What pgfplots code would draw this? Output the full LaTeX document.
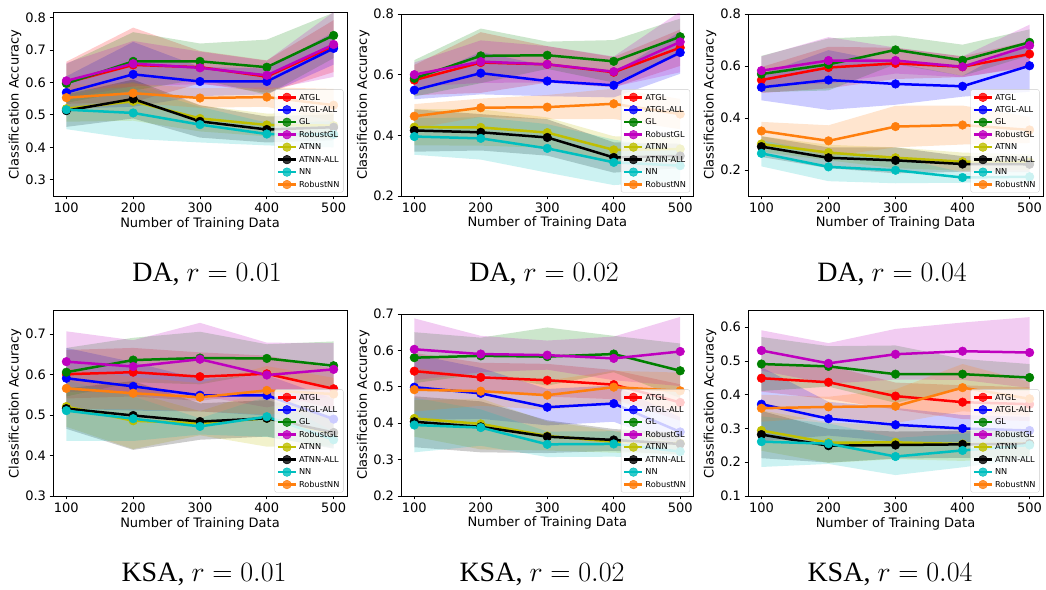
\RequirePackage{fix-cm}
\documentclass[border=0pt]{standalone}
\usepackage[no-math]{fontspec}
\setmainfont{Liberation Serif}
\newfontfamily\dejavu{DejaVu Sans}
\usepackage{pgfplots}
\pgfplotsset{compat=1.18}
\usepackage{pgfplotstable}
\usepgfplotslibrary{fillbetween}

\definecolor{cA}{rgb}{1,0,0}
\definecolor{cB}{rgb}{0,0,1}
\definecolor{cG}{rgb}{0,0.5,0}
\definecolor{cR}{rgb}{0.75,0,0.75}
\definecolor{cN}{rgb}{0.75,0.75,0}
\definecolor{cK}{rgb}{0,0,0}
\definecolor{cC}{rgb}{0,0.75,0.75}
\definecolor{cO}{rgb}{1,0.498,0.055}

% columns: a=ATGL b=ATGL-ALL g=GL r=RobustGL n=ATNN k=ATNN-ALL c=NN o=RobustNN ; s* = std
\pgfplotstableread{
x a sa b sb g sg r sr n sn k sk c sc o so
100 0.599 0.065 0.569 0.05 0.597 0.06 0.605 0.055 0.519 0.04 0.513 0.05 0.516 0.06 0.553 0.04
200 0.654 0.115 0.625 0.10 0.665 0.09 0.658 0.07 0.542 0.06 0.549 0.06 0.506 0.08 0.567 0.03
300 0.647 0.05 0.603 0.045 0.665 0.055 0.645 0.05 0.489 0.04 0.480 0.05 0.470 0.055 0.552 0.03
400 0.618 0.05 0.603 0.04 0.647 0.085 0.622 0.045 0.469 0.035 0.455 0.04 0.441 0.035 0.555 0.03
500 0.712 0.08 0.705 0.05 0.745 0.07 0.717 0.10 0.467 0.04 0.462 0.04 0.440 0.04 0.530 0.05
}\tabA
\pgfplotstableread{
x a sa b sb g sg r sr n sn k sk c sc o so
100 0.582 0.05 0.549 0.03 0.588 0.06 0.600 0.04 0.427 0.06 0.416 0.07 0.396 0.06 0.463 0.04
200 0.640 0.10 0.605 0.07 0.662 0.09 0.643 0.07 0.426 0.06 0.410 0.06 0.390 0.07 0.491 0.03
300 0.634 0.06 0.579 0.05 0.664 0.045 0.634 0.06 0.409 0.05 0.393 0.06 0.357 0.08 0.493 0.04
400 0.608 0.05 0.565 0.04 0.644 0.07 0.610 0.05 0.352 0.045 0.327 0.05 0.311 0.075 0.504 0.05
500 0.689 0.06 0.673 0.07 0.725 0.06 0.708 0.10 0.355 0.04 0.332 0.04 0.300 0.05 0.470 0.05
}\tabB
\pgfplotstableread{
x a sa b sb g sg r sr n sn k sk c sc o so
100 0.546 0.05 0.518 0.05 0.569 0.07 0.582 0.055 0.300 0.03 0.290 0.04 0.264 0.05 0.350 0.035
200 0.594 0.08 0.546 0.115 0.606 0.10 0.621 0.09 0.267 0.03 0.247 0.04 0.212 0.055 0.312 0.06
300 0.610 0.06 0.531 0.08 0.662 0.055 0.621 0.05 0.247 0.04 0.237 0.05 0.199 0.05 0.367 0.08
400 0.597 0.04 0.522 0.04 0.622 0.06 0.597 0.04 0.232 0.035 0.223 0.03 0.171 0.02 0.373 0.075
500 0.646 0.05 0.601 0.10 0.691 0.05 0.679 0.08 0.230 0.03 0.222 0.03 0.174 0.02 0.354 0.05
}\tabC
\pgfplotstableread{
x a sa b sb g sg r sr n sn k sk c sc o so
100 0.601 0.06 0.591 0.075 0.606 0.06 0.632 0.075 0.521 0.05 0.516 0.05 0.511 0.075 0.566 0.05
200 0.606 0.06 0.571 0.06 0.636 0.055 0.620 0.065 0.486 0.07 0.499 0.085 0.491 0.055 0.554 0.04
300 0.595 0.06 0.549 0.04 0.641 0.065 0.638 0.09 0.480 0.03 0.484 0.045 0.472 0.02 0.544 0.035
400 0.602 0.045 0.549 0.05 0.640 0.035 0.599 0.08 0.492 0.07 0.492 0.045 0.496 0.05 0.561 0.06
500 0.565 0.05 0.490 0.05 0.622 0.06 0.613 0.065 0.455 0.03 0.457 0.04 0.439 0.02 0.552 0.04
}\tabD
\pgfplotstableread{
x a sa b sb g sg r sr n sn k sk c sc o so
100 0.543 0.05 0.499 0.09 0.580 0.07 0.603 0.085 0.413 0.05 0.404 0.07 0.395 0.075 0.492 0.06
200 0.526 0.04 0.482 0.07 0.585 0.05 0.590 0.05 0.398 0.07 0.390 0.07 0.388 0.05 0.488 0.04
300 0.518 0.045 0.444 0.05 0.583 0.08 0.587 0.04 0.365 0.04 0.363 0.045 0.342 0.035 0.477 0.04
400 0.506 0.04 0.454 0.05 0.590 0.05 0.578 0.06 0.349 0.03 0.354 0.03 0.343 0.035 0.499 0.045
500 0.457 0.05 0.376 0.04 0.544 0.075 0.597 0.095 0.345 0.03 0.343 0.03 0.322 0.02 0.489 0.05
}\tabE
\pgfplotstableread{
x a sa b sb g sg r sr n sn k sk c sc o so
100 0.449 0.04 0.372 0.11 0.491 0.08 0.531 0.06 0.294 0.06 0.282 0.07 0.261 0.075 0.360 0.04
200 0.437 0.05 0.329 0.05 0.484 0.06 0.493 0.06 0.258 0.06 0.249 0.05 0.255 0.06 0.364 0.03
300 0.396 0.04 0.311 0.05 0.461 0.085 0.520 0.075 0.259 0.05 0.251 0.04 0.217 0.055 0.366 0.05
400 0.378 0.05 0.300 0.04 0.461 0.045 0.529 0.085 0.254 0.05 0.253 0.04 0.235 0.05 0.421 0.07
500 0.372 0.05 0.294 0.04 0.451 0.04 0.525 0.105 0.255 0.04 0.255 0.04 0.251 0.04 0.388 0.05
}\tabF

\newcommand{\series}[3]{%
  \addplot[draw=none, forget plot, name path=u#2] table[x=x, y expr=\thisrow{#2}+\thisrow{s#2}] {#1};
  \addplot[draw=none, forget plot, name path=l#2] table[x=x, y expr=\thisrow{#2}-\thisrow{s#2}] {#1};
  \addplot[fill=#3, fill opacity=0.2, draw=none, forget plot] fill between[of=u#2 and l#2];
  \addplot[color=#3, line width=2.5bp, mark=*, mark size=4.3bp, mark options={solid, fill=#3, line width=0.5bp}] table[x=x, y=#2] {#1};
}
\newcommand{\allseries}[1]{%
  \series{#1}{a}{cA}\series{#1}{b}{cB}\series{#1}{g}{cG}\series{#1}{r}{cR}%
  \series{#1}{n}{cN}\series{#1}{k}{cK}\series{#1}{c}{cC}\series{#1}{o}{cO}%
}

\pgfplotsset{
  myax/.style={
    scale only axis, anchor=south west,
    xmin=80, xmax=520, xtick={100,200,300,400,500},
    tick pos=left, tick align=outside, major tick length=3.5bp,
    every tick/.style={black, line width=0.8bp},
    axis line style={black, line width=0.8bp},
    /pgf/number format/assume math mode=true,
    tick label style={font=\dejavu\fontsize{13bp}{15bp}\selectfont},
    yticklabel style={/pgf/number format/.cd, fixed, fixed zerofill, precision=1},
    xlabel={Number of Training Data}, ylabel={Classification Accuracy},
    every axis y label/.style={at={(axis description cs:-0.129,0.5)}, rotate=90, anchor=center, font=\dejavu\fontsize{13bp}{15bp}\selectfont},
    every axis x label/.style={at={(axis description cs:0.5,-0.15)}, anchor=center, font=\dejavu\fontsize{13bp}{15bp}\selectfont},
    legend entries={ATGL, ATGL-ALL, GL, RobustGL, ATNN, ATNN-ALL, NN, RobustNN},
    legend cell align=left,
    legend style={at={(1,0)}, anchor=south east, xshift=-3.5bp, yshift=3.5bp,
      font=\dejavu\fontsize{8.2bp}{9bp}\selectfont, draw=black!20, rounded corners=2bp,
      fill=white, fill opacity=0.8, draw opacity=1, text opacity=1,
      inner xsep=2bp, inner ysep=2bp, row sep=1bp,
      nodes={inner xsep=1.8bp, inner ysep=1bp, text depth=0.2em, text height=0.75em}},
    legend image code/.code={\draw[mark repeat=2,mark phase=2] plot coordinates {(0bp,0bp) (9bp,0bp) (18bp,0bp)};},
  }
}

\begin{document}
\begin{tikzpicture}

\begin{axis}[myax, at={(53bp,394bp)}, width=294bp, height=183.3bp, ymin=0.25, ymax=0.815, ytick={0.3,0.4,0.5,0.6,0.7,0.8}]
\allseries{\tabA}
\end{axis}
\begin{axis}[myax, at={(401bp,394bp)}, width=292.5bp, height=182bp, ymin=0.2, ymax=0.8, ytick={0.2,0.4,0.6,0.8}]
\allseries{\tabB}
\end{axis}
\begin{axis}[myax, at={(748bp,394bp)}, width=295bp, height=182bp, ymin=0.1, ymax=0.8, ytick={0.2,0.4,0.6,0.8}]
\allseries{\tabC}
\end{axis}

\begin{axis}[myax, at={(53bp,94bp)}, width=294bp, height=185.3bp, ymin=0.3, ymax=0.758, ytick={0.3,0.4,0.5,0.6,0.7}]
\allseries{\tabD}
\end{axis}
\begin{axis}[myax, at={(401bp,94bp)}, width=292.5bp, height=182bp, ymin=0.2, ymax=0.7, ytick={0.2,0.3,0.4,0.5,0.6,0.7}]
\allseries{\tabE}
\end{axis}
\begin{axis}[myax, at={(748bp,94bp)}, width=295bp, height=185.3bp, ymin=0.1, ymax=0.649, ytick={0.1,0.2,0.3,0.4,0.5,0.6}]
\allseries{\tabF}
\end{axis}

\begin{scope}[every node/.style={anchor=base, font=\fontsize{28bp}{32bp}\selectfont, inner sep=0pt}]
\node at (207bp,308.3bp) {DA, $r=0.01$};
\node at (544bp,308.3bp) {DA, $r=0.02$};
\node at (892bp,308.3bp) {DA, $r=0.04$};
\node at (204bp,8.3bp) {KSA, $r=0.01$};
\node at (542bp,8.3bp) {KSA, $r=0.02$};
\node at (890bp,8.3bp) {KSA, $r=0.04$};
\end{scope}
\pgfresetboundingbox
\useasboundingbox (0,0) rectangle (1046bp,590bp);
\end{tikzpicture}
\end{document}
